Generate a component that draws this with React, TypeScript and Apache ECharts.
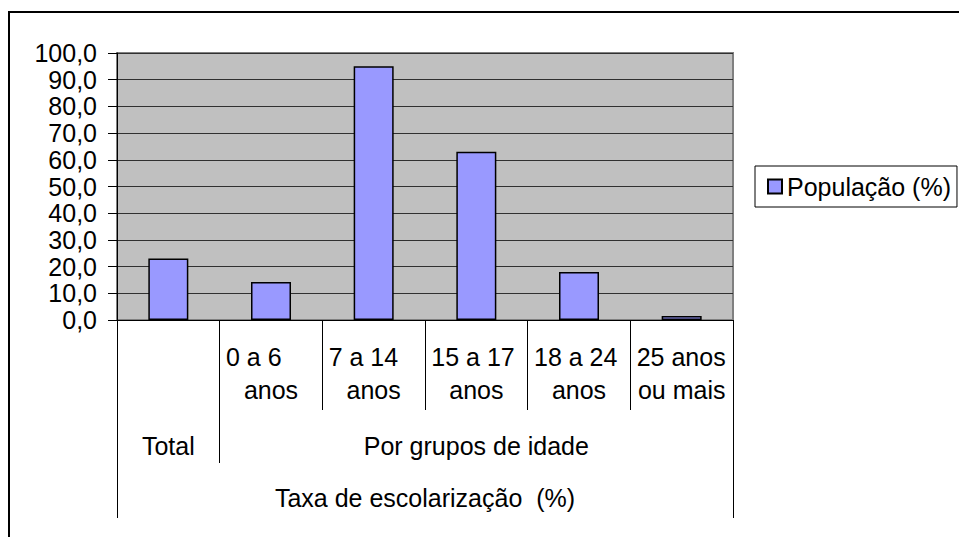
import React, { useEffect, useRef } from "react";
import * as echarts from "echarts";

// ---- data ----
const categories = ["Total", "0 a 6\nanos", "7 a 14\nanos", "15 a 17\nanos", "18 a 24\nanos", "25 anos\nou mais"];
const groupLabels = ["Total", "", "", "Por grupos de idade", "", ""];
const axisTitle = "Taxa de escolarização  (%)";
const seriesName = "População (%)";
const populacao = [23.0, 14.2, 95.0, 63.0, 18.0, 1.5];
const yMin = 0;
const yMax = 100;
const yInterval = 10;

const FONT = "'Liberation Sans', Arial, sans-serif";
const FS = 25;

export default function App() {
  const ref = useRef<HTMLDivElement>(null);
  useEffect(() => {
    if (!ref.current) return;
    const chart = echarts.init(ref.current, undefined, { renderer: "svg" });
    const baseText = { fontFamily: FONT, fontSize: FS, color: "#000" };
    const option: any = {
      animation: false,
      backgroundColor: "#fff",
      textStyle: { fontFamily: FONT },
      grid: {
        left: 117,
        top: 53,
        right: 226,
        bottom: 217,
        show: true,
        backgroundColor: "#C0C0C0",
        borderColor: "#808080",
        borderWidth: 2,
      },
      legend: {
        data: [seriesName],
        left: 755,
        top: 166,
        orient: "vertical",
        padding: [8, 6, 8, 12],
        itemWidth: 14,
        itemHeight: 14,
        icon: "rect",
        borderColor: "#000",
        borderWidth: 1,
        backgroundColor: "#fff",
        textStyle: { ...baseText },
      },
      xAxis: [
        {
          type: "category",
          data: categories,
          position: "bottom",
          axisLine: { show: true, lineStyle: { color: "#000", width: 1 } },
          axisTick: { show: true, interval: 0, length: 90, lineStyle: { color: "#000", width: 1 } },
          axisLabel: {
            interval: 0,
            margin: 20,
            ...baseText,
            lineHeight: 33,
            formatter: (value: string, index: number) => {
              if (index === 0) return "";
              const [l1, l2] = value.split("\n");
              return `{a|${l1}}\n{c|${l2}}`;
            },
            rich: {
              a: { ...baseText, lineHeight: 33, width: 90, align: "left" },
              c: { ...baseText, lineHeight: 33 },
            },
          },
        },
        {
          type: "category",
          data: categories,
          position: "bottom",
          offset: 90,
          axisLine: { show: false },
          axisTick: {
            show: true,
            interval: (i: number) => i <= 1,
            length: 53,
            lineStyle: { color: "#000", width: 1 },
          },
          axisLabel: {
            interval: 0,
            margin: 19,
            ...baseText,
            lineHeight: 33,
            formatter: (_v: string, index: number) => groupLabels[index],
          },
        },
        {
          type: "category",
          data: categories,
          position: "bottom",
          offset: 143,
          axisLine: { show: false },
          axisTick: {
            show: true,
            interval: (i: number) => i === 0,
            length: 55,
            lineStyle: { color: "#000", width: 1 },
          },
          axisLabel: { show: false },
          name: axisTitle,
          nameLocation: "middle",
          nameGap: 22,
          nameTextStyle: { ...baseText },
        },
      ],
      yAxis: {
        type: "value",
        min: yMin,
        max: yMax,
        interval: yInterval,
        axisLine: { show: true, lineStyle: { color: "#000", width: 1 } },
        axisTick: { show: true, length: 9, lineStyle: { color: "#000", width: 1 } },
        axisLabel: {
          margin: 20,
          ...baseText,
          formatter: (v: number) => v.toFixed(1).replace(".", ","),
        },
        splitLine: { show: true, lineStyle: { color: "#303030", width: 1 } },
      },
      series: [
        {
          name: seriesName,
          type: "bar",
          xAxisIndex: 0,
          data: populacao,
          barWidth: 40,
          itemStyle: { color: "#9999FF", borderColor: "#000", borderWidth: 1.5 },
        },
      ],
      graphic: [
        {
          type: "rect",
          shape: { x: 9, y: 12, width: 1000, height: 600 },
          style: { fill: "none", stroke: "#000", lineWidth: 2 },
          silent: true,
          z: 100,
        },
      ],
    };
    chart.setOption(option);
    return () => chart.dispose();
  }, []);
  return (
    <div
      ref={ref}
      style={{ position: "fixed", left: 0, top: 0, width: 959, height: 537 }}
    />
  );
}
